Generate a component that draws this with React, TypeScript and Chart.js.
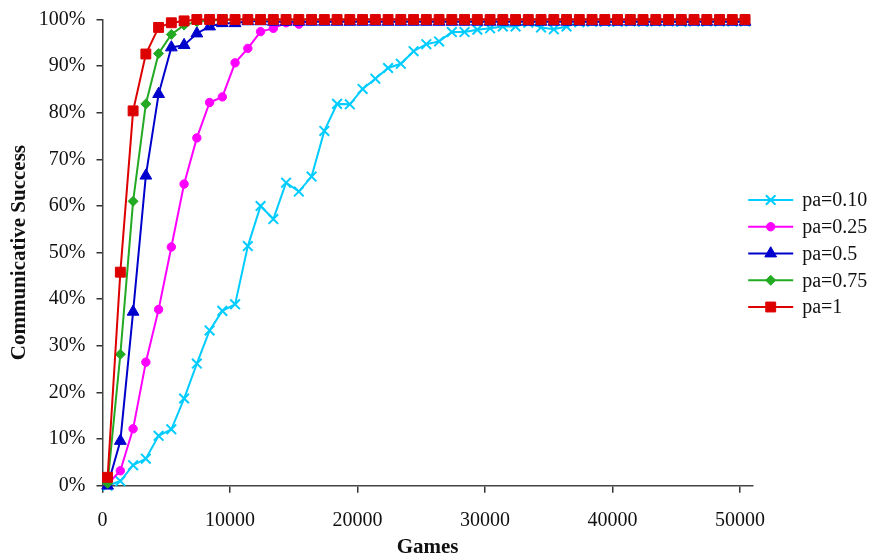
import React, { useEffect, useRef } from 'react';
import { Chart, registerables } from 'chart.js';
import { drawPoint } from 'chart.js/helpers';

Chart.register(...registerables);

const games = [
  400, 1400, 2400, 3400, 4400, 5400, 6400, 7400, 8400, 9400,
  10400, 11400, 12400, 13400, 14400, 15400, 16400, 17400, 18400, 19400,
  20400, 21400, 22400, 23400, 24400, 25400, 26400, 27400, 28400, 29400,
  30400, 31400, 32400, 33400, 34400, 35400, 36400, 37400, 38400, 39400,
  40400, 41400, 42400, 43400, 44400, 45400, 46400, 47400, 48400, 49400,
  50400,
];

const pa010 = [
  0, 1.0, 4.4, 5.8, 10.7, 12.1, 18.7, 26.2, 33.3, 37.5,
  38.9, 51.4, 60.0, 57.2, 65.0, 63.1, 66.3, 76.1, 81.9, 81.8,
  85.1, 87.3, 89.6, 90.5, 93.2, 94.7, 95.3, 97.3, 97.3, 97.8,
  98.1, 98.5, 98.5, 99.3, 98.3, 97.9, 98.5, 99.4, 99.5, 99.5,
  99.5, 99.6, 99.5, 99.6, 99.6, 99.5, 99.6, 99.6, 99.6, 99.6,
  99.6,
];

const pa025 = [
  0.3, 3.2, 12.2, 26.5, 37.8, 51.2, 64.7, 74.6, 82.2, 83.4,
  90.7, 93.8, 97.4, 98.1, 99.3, 99.0, 99.8, 99.9, 99.9, 100,
  100, 100, 100, 100, 100, 100, 100, 100, 100, 100,
  100, 100, 100, 100, 100, 100, 100, 100, 100, 100,
  100, 100, 100, 100, 100, 100, 100, 100, 100, 100,
  100,
];

const pa05 = [
  0, 9.6, 37.3, 66.5, 84.0, 94.0, 94.5, 97.0, 98.5, 99.2,
  99.2, 99.6, 99.6, 99.5, 99.5, 99.5, 99.5, 99.5, 99.5, 99.5,
  99.5, 99.5, 99.5, 99.5, 99.5, 99.5, 99.5, 99.5, 99.5, 99.5,
  99.5, 99.5, 99.5, 99.5, 99.5, 99.5, 99.5, 99.5, 99.5, 99.5,
  99.5, 99.5, 99.5, 99.5, 99.5, 99.5, 99.5, 99.5, 99.5, 99.5,
  99.5,
];

const pa075 = [
  0.5, 28.2, 61.0, 81.9, 92.7, 96.8, 98.8, 99.5, 99.8, 99.9,
  100, 100, 100, 100, 100, 100, 100, 100, 100, 100,
  100, 100, 100, 100, 100, 100, 100, 100, 100, 100,
  100, 100, 100, 100, 100, 100, 100, 100, 100, 100,
  100, 100, 100, 100, 100, 100, 100, 100, 100, 100,
  100,
];

const pa1 = [
  1.8, 45.8, 80.4, 92.6, 98.3, 99.3, 99.7, 100, 100, 100,
  100, 100, 100, 100, 100, 100, 100, 100, 100, 100,
  100, 100, 100, 100, 100, 100, 100, 100, 100, 100,
  100, 100, 100, 100, 100, 100, 100, 100, 100, 100,
  100, 100, 100, 100, 100, 100, 100, 100, 100, 100,
  100,
];

const seriesLabels = ['pa=0.10', 'pa=0.25', 'pa=0.5', 'pa=0.75', 'pa=1'];
const seriesValues = [pa010, pa025, pa05, pa075, pa1];
const seriesColors = ['#00CCFF', '#FF00FF', '#0000CC', '#22AA22', '#DD0000'];
const seriesStyles = ['crossRot', 'circle', 'triangle', 'rectRot', 'rect'];
const seriesRadius = [6.8, 4.2, 6.8, 5, 7];
const seriesPointBorder = [2, 1, 1, 1, 1];

const xTickValues = [0, 10000, 20000, 30000, 40000, 50000];

const FONT = '"Liberation Serif", "Times New Roman", serif';

const legendPlugin = {
  id: 'customLegend',
  afterDraw(chart: any) {
    const ctx = chart.ctx;
    const ca = chart.chartArea;
    const x0 = ca.right - 4.5;
    const x1 = ca.right + 40.5;
    const tx = ca.right + 49.5;
    const yStart = ca.top + 180.5;
    const step = 26.75;
    seriesLabels.forEach((label, i) => {
      const y = yStart + i * step;
      ctx.save();
      ctx.strokeStyle = seriesColors[i];
      ctx.lineWidth = 2;
      ctx.beginPath();
      ctx.moveTo(x0, y);
      ctx.lineTo(x1, y);
      ctx.stroke();
      ctx.fillStyle = seriesColors[i];
      ctx.strokeStyle = seriesColors[i];
      ctx.lineWidth = seriesPointBorder[i];
      drawPoint(
        ctx,
        {
          pointStyle: seriesStyles[i],
          radius: seriesRadius[i],
          borderWidth: seriesPointBorder[i],
          rotation: 0,
        } as any,
        (x0 + x1) / 2,
        y
      );
      ctx.fillStyle = '#111';
      ctx.font = '20px ' + FONT;
      ctx.textAlign = 'left';
      ctx.textBaseline = 'middle';
      ctx.fillText(label, tx, y + 1);
      ctx.restore();
    });
  },
};

export default function App() {
  const canvasRef = useRef<HTMLCanvasElement | null>(null);

  useEffect(() => {
    const canvas = canvasRef.current;
    if (!canvas) return;
    const order = [5, 4, 3, 2, 1];
    const datasets = seriesLabels.map((label, i) => ({
      label,
      data: games.map((g, j) => ({ x: g, y: seriesValues[i][j] })),
      borderColor: seriesColors[i],
      backgroundColor: seriesColors[i],
      borderWidth: 2,
      pointStyle: seriesStyles[i] as any,
      pointRadius: seriesRadius[i],
      pointBorderWidth: seriesPointBorder[i],
      pointBorderColor: seriesColors[i],
      pointBackgroundColor: seriesColors[i],
      tension: 0,
      fill: false,
      clip: false as any,
      order: order[i],
    }));

    const chart = new Chart(canvas, {
      type: 'line',
      data: { datasets },
      plugins: [legendPlugin],
      options: {
        responsive: false,
        animation: false,
        layout: { padding: { top: 19.5, right: 119.3, left: 0, bottom: 0 } },
        plugins: {
          legend: { display: false },
          tooltip: { enabled: false },
        },
        scales: {
          x: {
            type: 'linear',
            min: 0,
            max: 51000,
            afterFit: (scale: any) => {
              scale.height = 72.3;
            },
            afterBuildTicks: (scale: any) => {
              scale.ticks = xTickValues.map((v) => ({ value: v }));
            },
            ticks: {
              color: '#111',
              font: { family: FONT, size: 20 },
              padding: 16,
              maxRotation: 0,
              autoSkip: false,
              callback: (v: any) => String(v),
            },
            grid: {
              display: true,
              drawOnChartArea: false,
              drawTicks: true,
              tickLength: 7,
              color: '#333',
              lineWidth: 1.5,
            },
            border: { display: true, color: '#444', width: 1.5 },
            title: {
              display: true,
              text: 'Games',
              color: '#111',
              font: { family: FONT, size: 21, weight: 'bold', lineHeight: 1 },
              padding: 0,
            },
          },
          y: {
            type: 'linear',
            min: 0,
            max: 100,
            afterFit: (scale: any) => {
              scale.width = 102.5;
              scale.paddingTop = 0;
            },
            ticks: {
              stepSize: 10,
              color: '#111',
              font: { family: FONT, size: 20, lineHeight: 1 },
              padding: 11,
              callback: (v: any) => v + '%',
            },
            grid: {
              display: true,
              drawOnChartArea: false,
              drawTicks: true,
              tickLength: 6,
              color: '#333',
              lineWidth: 1.5,
            },
            border: { display: true, color: '#444', width: 1.5 },
            title: {
              display: true,
              text: 'Communicative Success',
              color: '#111',
              font: { family: FONT, size: 21, weight: 'bold' },
              padding: 7,
            },
          },
        },
      },
    });
    return () => chart.destroy();
  }, []);

  return (
    <div style={{ position: 'fixed', left: 0, top: 0, width: 872, height: 558, background: '#fff' }}>
      <canvas ref={canvasRef} width={872} height={558} style={{ display: 'block', width: 872, height: 558 }} />
    </div>
  );
}
